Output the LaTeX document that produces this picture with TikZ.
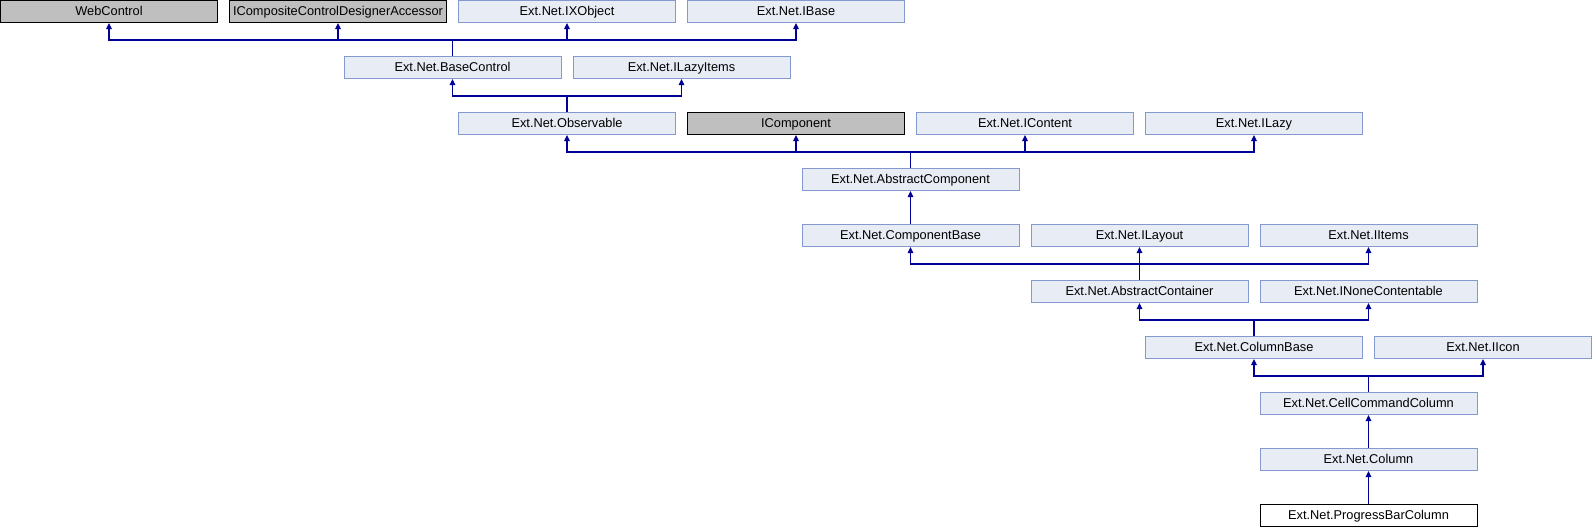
\documentclass[tikz,border=0pt]{standalone}
\usepackage{fontspec}
\setmainfont{Liberation Sans}
\usetikzlibrary{arrows.meta}
\definecolor{classfill}{RGB}{232,236,245}
\definecolor{classdraw}{RGB}{132,154,207}
\definecolor{extfill}{RGB}{191,191,191}
\definecolor{edgeblue}{RGB}{0,0,150}
\tikzset{class node/.style={rectangle, draw=classdraw, fill=classfill, line width=1pt,
    minimum width=217pt, minimum height=22pt, inner sep=0pt,
    text height=9.5pt, text depth=2.5pt,
    font=\fontsize{12.8}{14}\selectfont}}
\tikzset{external node/.style={class node, draw=black, fill=extfill}}
\tikzset{current node/.style={class node, draw=black, fill=white}}
\tikzset{inherit edge/.style={draw=edgeblue, line width=1.2pt,
    -{Triangle[length=6pt,width=5.5pt]}}}

\begin{document}
\begin{tikzpicture}[x=1pt, y=-1pt]
  \useasboundingbox (0,0) rectangle (1593,528);

  % row 0
  \node [external node] (webctl)   at ( 109.0, 11.5) {WebControl};
  \node [external node] (iccda)    at ( 338.0, 11.5) {ICompositeControlDesignerAccessor};
  \node [class node]    (ixobj)    at ( 567.0, 11.5) {Ext.Net.IXObject};
  \node [class node]    (ibase)    at ( 796.0, 11.5) {Ext.Net.IBase};
  % row 1
  \node [class node]    (basectl)  at ( 452.5, 67.5) {Ext.Net.BaseControl};
  \node [class node]    (ilazyit)  at ( 681.5, 67.5) {Ext.Net.ILazyItems};
  % row 2
  \node [class node]    (observ)   at ( 567.0,123.5) {Ext.Net.Observable};
  \node [external node] (icomp)    at ( 796.0,123.5) {IComponent};
  \node [class node]    (icontent) at (1025.0,123.5) {Ext.Net.IContent};
  \node [class node]    (ilazy)    at (1254.0,123.5) {Ext.Net.ILazy};
  % row 3
  \node [class node]    (abscomp)  at ( 910.5,179.5) {Ext.Net.AbstractComponent};
  % row 4
  \node [class node]    (compbase) at ( 910.5,235.5) {Ext.Net.ComponentBase};
  \node [class node]    (ilayout)  at (1139.5,235.5) {Ext.Net.ILayout};
  \node [class node]    (iitems)   at (1368.5,235.5) {Ext.Net.IItems};
  % row 5
  \node [class node]    (abscont)  at (1139.5,291.5) {Ext.Net.AbstractContainer};
  \node [class node]    (inonec)   at (1368.5,291.5) {Ext.Net.INoneContentable};
  % row 6
  \node [class node]    (colbase)  at (1254.0,347.5) {Ext.Net.ColumnBase};
  \node [class node]    (iicon)    at (1483.0,347.5) {Ext.Net.IIcon};
  % rows 7--9
  \node [class node]    (cellcmd)  at (1368.5,403.5) {Ext.Net.CellCommandColumn};
  \node [class node]    (column)   at (1368.5,459.5) {Ext.Net.Column};
  \node [current node]  (progress) at (1368.5,515.5) {Ext.Net.ProgressBarColumn};

  % inheritance edges (child up to bus, then to parent)
  \foreach \parent in {webctl, iccda, ixobj, ibase}
    \draw [inherit edge] (basectl.north) -- ++(0,-16) -| (\parent.south);
  \foreach \parent in {basectl, ilazyit}
    \draw [inherit edge] (observ.north) -- ++(0,-16) -| (\parent.south);
  \foreach \parent in {observ, icomp, icontent, ilazy}
    \draw [inherit edge] (abscomp.north) -- ++(0,-16) -| (\parent.south);
  \draw [inherit edge] (compbase) -- (abscomp);
  \foreach \parent in {compbase, ilayout, iitems}
    \draw [inherit edge] (abscont.north) -- ++(0,-16) -| (\parent.south);
  \foreach \parent in {abscont, inonec}
    \draw [inherit edge] (colbase.north) -- ++(0,-16) -| (\parent.south);
  \foreach \parent in {colbase, iicon}
    \draw [inherit edge] (cellcmd.north) -- ++(0,-16) -| (\parent.south);
  \draw [inherit edge] (column) -- (cellcmd);
  \draw [inherit edge] (progress) -- (column);
\end{tikzpicture}
\end{document}
